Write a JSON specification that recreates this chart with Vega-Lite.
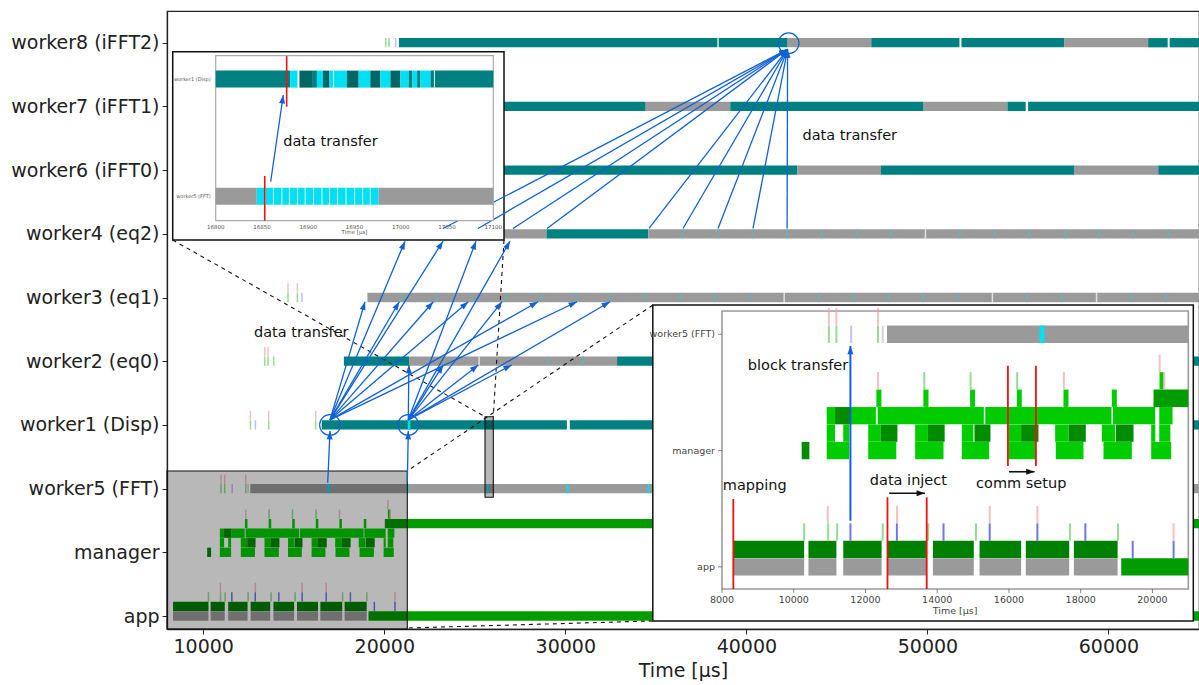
{
"$schema": "https://vega.github.io/schema/vega-lite/v6.json",
"width": 1032, "height": 618,
"autosize": "none",
"padding": {"left": 167, "top": 11, "right": 0, "bottom": 56},
"background": "white",
"config": {"view": {"stroke": "#222", "strokeWidth": 1.2}, "font": "DejaVu Sans"},
"datasets": {
"tl": [
{"y":9,"s":20810,"e":38400,"k":"busy"},{"y":9,"s":38470,"e":42280,"k":"busy"},{"y":9,"s":42280,"e":46900,"k":"idle"},{"y":9,"s":46900,"e":51770,"k":"busy"},{"y":9,"s":51880,"e":57550,"k":"busy"},{"y":9,"s":57550,"e":62190,"k":"idle"},{"y":9,"s":62190,"e":63270,"k":"busy"},{"y":9,"s":63380,"e":65000,"k":"busy"},
{"y":8,"s":22000,"e":34440,"k":"busy"},{"y":8,"s":34440,"e":39110,"k":"idle"},{"y":8,"s":39110,"e":49790,"k":"busy"},{"y":8,"s":49790,"e":54420,"k":"idle"},{"y":8,"s":54420,"e":55430,"k":"busy"},{"y":8,"s":55560,"e":65000,"k":"busy"},
{"y":7,"s":22500,"e":42810,"k":"busy"},{"y":7,"s":42810,"e":47420,"k":"idle"},{"y":7,"s":47420,"e":58130,"k":"busy"},{"y":7,"s":58130,"e":62750,"k":"idle"},{"y":7,"s":62750,"e":65000,"k":"busy"},
{"y":6,"s":26000,"e":28960,"k":"idle"},{"y":6,"s":28960,"e":34580,"k":"busy"},{"y":6,"s":34580,"e":65000,"k":"idle"},
{"y":5,"s":19070,"e":65000,"k":"idle"},
{"y":4,"s":17770,"e":21370,"k":"busy"},{"y":4,"s":21370,"e":32860,"k":"idle"},{"y":4,"s":32860,"e":40500,"k":"busy"},{"y":4,"s":40500,"e":45000,"k":"idle"},{"y":4,"s":45000,"e":65000,"k":"busy"},
{"y":3,"s":16545,"e":30088,"k":"busy"},{"y":3,"s":30248,"e":65000,"k":"busy"},{"y":3,"s":21300,"e":21440,"k":"xfer"},
{"y":2,"s":12600,"e":65000,"k":"idle"},
{"y":2,"s":16850,"e":16990,"k":"xfer"},{"y":2,"s":21230,"e":21330,"k":"xfer"},{"y":2,"s":25665,"e":25765,"k":"xfer"},{"y":2,"s":30085,"e":30185,"k":"xfer"},{"y":2,"s":34535,"e":34635,"k":"xfer"},{"y":2,"s":38950,"e":39050,"k":"xfer"},{"y":2,"s":43380,"e":43480,"k":"xfer"},{"y":2,"s":47810,"e":47910,"k":"xfer"},{"y":2,"s":52240,"e":52340,"k":"xfer"},{"y":2,"s":56670,"e":56770,"k":"xfer"},{"y":2,"s":61100,"e":61200,"k":"xfer"},
{"y":1,"s":10221,"e":10436,"k":"mgrd"},
{"y":1,"s":10919,"e":11542,"k":"mgr"},{"y":1.15,"s":10919,"e":11152,"k":"mgr"},{"y":1.15,"s":11380,"e":11542,"k":"mgr"},{"y":1.3,"s":10919,"e":11152,"k":"mgr"},{"y":1.3,"s":11152,"e":11570,"k":"mgrd"},
{"y":1.3,"s":11570,"e":12290,"k":"mgr"},{"y":1.3,"s":12340,"e":15300,"k":"mgr"},{"y":1.3,"s":15340,"e":18860,"k":"mgr"},{"y":1.3,"s":18900,"e":20077,"k":"mgr"},
{"y":1,"s":12076,"e":12860,"k":"mgr"},{"y":1.15,"s":12076,"e":12429,"k":"mgr"},{"y":1.15,"s":12429,"e":12891,"k":"mgrd"},{"y":1.45,"s":12303,"e":12444,"k":"mgr"},
{"y":1,"s":13385,"e":14176,"k":"mgr"},{"y":1.15,"s":13385,"e":13741,"k":"mgr"},{"y":1.15,"s":13741,"e":14208,"k":"mgrd"},{"y":1.45,"s":13614,"e":13757,"k":"mgr"},
{"y":1,"s":14685,"e":15447,"k":"mgr"},{"y":1.15,"s":14685,"e":15010,"k":"mgr"},{"y":1.15,"s":15038,"e":15484,"k":"mgrd"},{"y":1.45,"s":14917,"e":15056,"k":"mgr"},
{"y":1,"s":15986,"e":16749,"k":"mgr"},{"y":1.15,"s":15986,"e":16339,"k":"mgr"},{"y":1.15,"s":16339,"e":16823,"k":"mgrd"},{"y":1.45,"s":16219,"e":16358,"k":"mgr"},
{"y":1,"s":17306,"e":18078,"k":"mgr"},{"y":1.15,"s":17288,"e":17660,"k":"mgr"},{"y":1.15,"s":17660,"e":18143,"k":"mgrd"},{"y":1.45,"s":17520,"e":17660,"k":"mgr"},
{"y":1,"s":18636,"e":19426,"k":"mgr"},{"y":1.15,"s":18589,"e":18961,"k":"mgr"},{"y":1.15,"s":18980,"e":19473,"k":"mgrd"},{"y":1.45,"s":18868,"e":19008,"k":"mgr"},
{"y":1,"s":19965,"e":20523,"k":"mgr"},{"y":1.15,"s":19965,"e":20080,"k":"mgr"},{"y":1.15,"s":20190,"e":20500,"k":"mgr"},{"y":1.3,"s":20190,"e":20560,"k":"mgr"},
{"y":1.45,"s":20030,"e":65000,"k":"run"},{"y":1.6,"s":20198,"e":20309,"k":"mgr"},
{"y":0.15,"s":8335,"e":10290,"k":"app"},{"y":0.15,"s":10410,"e":11190,"k":"app"},{"y":0.15,"s":11380,"e":12450,"k":"app"},{"y":0.15,"s":12620,"e":13700,"k":"app"},{"y":0.15,"s":13880,"e":15020,"k":"app"},{"y":0.15,"s":15180,"e":16340,"k":"app"},{"y":0.15,"s":16470,"e":17680,"k":"app"},{"y":0.15,"s":17810,"e":19030,"k":"app"},
{"y":0,"s":8335,"e":10290,"k":"idle"},{"y":0,"s":10410,"e":11190,"k":"idle"},{"y":0,"s":11380,"e":12450,"k":"idle"},{"y":0,"s":12620,"e":13700,"k":"idle"},{"y":0,"s":13880,"e":15020,"k":"idle"},{"y":0,"s":15180,"e":16340,"k":"idle"},{"y":0,"s":16470,"e":17680,"k":"idle"},{"y":0,"s":17810,"e":19030,"k":"idle"},
{"y":0,"s":19130,"e":65000,"k":"run"}
],
"mk": [
{"y":9,"t":20080,"k":"tg"},{"y":9,"t":20264,"k":"tg"},{"y":9,"t":20630,"k":"tl"},
{"y":5.15,"t":14683,"k":"tr"},{"y":5,"t":14683,"k":"tg"},{"y":5.15,"t":15202,"k":"tr"},{"y":5,"t":15202,"k":"tg"},{"y":5,"t":15456,"k":"tl"},
{"y":4.15,"t":13396,"k":"tr"},{"y":4,"t":13396,"k":"tg"},{"y":4.15,"t":13579,"k":"tr"},{"y":4,"t":13579,"k":"tg"},{"y":4,"t":13894,"k":"tg"},
{"y":3.15,"t":12611,"k":"tr"},{"y":3,"t":12611,"k":"tg"},{"y":3,"t":12883,"k":"tl"},{"y":3.15,"t":13617,"k":"tr"},{"y":3,"t":13617,"k":"tg"},{"y":3.15,"t":16213,"k":"tr"},{"y":3,"t":16213,"k":"tg"},
{"y":2,"t":10980,"k":"tg"},{"y":2.15,"t":10980,"k":"tr"},{"y":2,"t":11190,"k":"tg"},{"y":2.15,"t":11190,"k":"tr"},{"y":2,"t":11600,"k":"tl"},{"y":2,"t":12350,"k":"tg"},{"y":2.15,"t":12350,"k":"tr"},{"y":2,"t":12480,"k":"tgr"},
{"y":1.6,"t":12350,"k":"tr"},{"y":1.6,"t":13640,"k":"tg"},{"y":1.6,"t":14930,"k":"tg"},{"y":1.6,"t":16230,"k":"tg"},{"y":1.6,"t":17530,"k":"tr"},{"y":1.75,"t":20200,"k":"tr"},{"y":1.6,"t":20330,"k":"tr"},
{"y":0.3,"t":11580,"k":"tb"},{"y":0.3,"t":12875,"k":"tb"},{"y":0.3,"t":14175,"k":"tb"},{"y":0.3,"t":15463,"k":"tb"},{"y":0.3,"t":16793,"k":"tb"},{"y":0.3,"t":18130,"k":"tb"},{"y":0.15,"t":19450,"k":"tb"},{"y":0.15,"t":20590,"k":"tb"},
{"y":0.3,"t":10290,"k":"tg"},{"y":0.3,"t":10960,"k":"tg"},{"y":0.3,"t":11210,"k":"tg"},{"y":0.45,"t":10950,"k":"tr"},{"y":0.3,"t":12480,"k":"tg"},{"y":0.45,"t":12880,"k":"tr"},{"y":0.3,"t":13750,"k":"tg"},{"y":0.45,"t":15463,"k":"tr"},{"y":0.3,"t":15080,"k":"tg"},{"y":0.45,"t":16793,"k":"tr"},{"y":0.3,"t":17700,"k":"tg"},{"y":0.3,"t":19040,"k":"tg"},{"y":0.3,"t":20590,"k":"tr"},
{"y":5,"t":21001,"k":"sep"},{"y":5,"t":22918,"k":"sep"},{"y":5,"t":24835,"k":"sep"},{"y":5,"t":26752,"k":"sep"},{"y":5,"t":28669,"k":"sep"},{"y":5,"t":30586,"k":"sep"},{"y":5,"t":32503,"k":"sep"},{"y":5,"t":34420,"k":"sep"},{"y":5,"t":36337,"k":"sep"},{"y":5,"t":38254,"k":"sep"},{"y":5,"t":40171,"k":"sep"},{"y":5,"t":42088,"k":"sepw"},{"y":5,"t":44005,"k":"sep"},{"y":5,"t":45922,"k":"sep"},{"y":5,"t":47839,"k":"sep"},{"y":5,"t":49756,"k":"sep"},{"y":5,"t":51673,"k":"sep"},{"y":5,"t":53590,"k":"sepw"},{"y":5,"t":55507,"k":"sep"},{"y":5,"t":57424,"k":"sep"},{"y":5,"t":59341,"k":"sepw"},{"y":5,"t":61258,"k":"sep"},{"y":5,"t":63175,"k":"sep"},
{"y":6,"t":36470,"k":"sep"},{"y":6,"t":38440,"k":"sep"},{"y":6,"t":40340,"k":"sep"},{"y":6,"t":42260,"k":"sep"},{"y":6,"t":44150,"k":"sep"},{"y":6,"t":46080,"k":"sep"},{"y":6,"t":47990,"k":"sep"},{"y":6,"t":49890,"k":"sepw"},{"y":6,"t":51790,"k":"sep"},{"y":6,"t":53710,"k":"sep"},{"y":6,"t":55630,"k":"sep"},{"y":6,"t":57600,"k":"sep"},{"y":6,"t":59490,"k":"sep"},{"y":6,"t":61340,"k":"sep"},{"y":6,"t":63310,"k":"sep"},
{"y":4,"t":25240,"k":"sepw"},{"y":4,"t":29040,"k":"sep"},{"y":4,"t":30975,"k":"sep"}
],
"boxes": [
{"x1":8000,"x2":21272,"y1":-0.204,"y2":2.277,"kind":"shade"},
{"x1":25564,"x2":26022,"y1":1.864,"y2":3.129,"kind":"shade"}
],
"insets": [
{"x1":8315,"x2":26614,"y1":5.903,"y2":8.859},
{"x1":34832,"x2":64686,"y1":-0.078,"y2":4.883}
],
"dash": [
{"x1":8315,"y1":5.903,"x2":25564,"y2":3.129},
{"x1":26614,"y1":5.903,"x2":26022,"y2":3.129},
{"x1":34832,"y1":4.883,"x2":21272,"y2":2.277},
{"x1":34832,"y1":-0.078,"x2":21272,"y2":-0.188}
],
"arr": [
{"x1":16876,"y1":2.093,"x2":17003,"y2":2.905},
{"x1":21272,"y1":2.093,"x2":21327,"y2":2.905},
{"x1":17003,"y1":3.08,"x2":21145,"y2":5.885},
{"x1":17003,"y1":3.08,"x2":23244,"y2":5.885},
{"x1":17003,"y1":3.08,"x2":18936,"y2":4.934},
{"x1":17003,"y1":3.08,"x2":20830,"y2":4.934},
{"x1":17003,"y1":3.08,"x2":22708,"y2":4.934},
{"x1":17003,"y1":3.08,"x2":24641,"y2":4.934},
{"x1":17003,"y1":3.08,"x2":28491,"y2":4.934},
{"x1":17003,"y1":3.08,"x2":30645,"y2":4.934},
{"x1":21327,"y1":3.08,"x2":25067,"y2":5.885},
{"x1":21327,"y1":3.08,"x2":26945,"y2":5.885},
{"x1":21327,"y1":3.08,"x2":26503,"y2":4.934},
{"x1":21327,"y1":3.08,"x2":32468,"y2":4.934},
{"x1":21327,"y1":3.08,"x2":21360,"y2":3.941},
{"x1":21327,"y1":3.08,"x2":23261,"y2":3.941},
{"x1":21327,"y1":3.08,"x2":25194,"y2":3.941},
{"x1":21327,"y1":3.08,"x2":27039,"y2":3.941},
{"x1":23244,"y1":6.084,"x2":42277,"y2":8.897},
{"x1":25177,"y1":6.084,"x2":42277,"y2":8.897},
{"x1":27110,"y1":6.084,"x2":42277,"y2":8.897},
{"x1":28989,"y1":6.084,"x2":42277,"y2":8.897},
{"x1":34622,"y1":6.084,"x2":42277,"y2":8.897},
{"x1":36500,"y1":6.084,"x2":42277,"y2":8.897},
{"x1":38433,"y1":6.084,"x2":42277,"y2":8.897},
{"x1":40366,"y1":6.084,"x2":42277,"y2":8.897},
{"x1":42250,"y1":6.084,"x2":42277,"y2":8.897}
],
"circ": [{"t":17003,"y":3.0},{"t":21327,"y":3.0},{"t":42333,"y":8.991}],
"notes": [{"t":12805,"y":4.448,"label":"data transfer"},{"t":43100,"y":7.538,"label":"data transfer"}],
"i1": [
{"y":1,"s":16800,"e":16880.5,"k":"busy"},{"y":1,"s":16880.5,"e":16888.4,"k":"xfer"},{"y":1,"s":16890.5,"e":16905,"k":"busyd"},{"y":1,"s":16905,"e":16909.4,"k":"busy"},{"y":1,"s":16909.4,"e":16915.9,"k":"xfer"},{"y":1,"s":16915.9,"e":16923,"k":"busyd"},{"y":1,"s":16923,"e":16941.9,"k":"xfer"},{"y":1,"s":16941.9,"e":16954.5,"k":"busyd"},{"y":1,"s":16954.5,"e":16967.1,"k":"xfer"},{"y":1,"s":16967.1,"e":16977.9,"k":"busyd"},{"y":1,"s":16977.9,"e":16988.8,"k":"xfer"},{"y":1,"s":16988.8,"e":16999.6,"k":"busyd"},{"y":1,"s":16999.6,"e":17008.6,"k":"xfer"},{"y":1,"s":17008.6,"e":17012.3,"k":"busy"},{"y":1,"s":17012.3,"e":17017.7,"k":"xfer"},{"y":1,"s":17017.7,"e":17021.3,"k":"busy"},{"y":1,"s":17021.3,"e":17032.1,"k":"xfer"},{"y":1,"s":17032.1,"e":17100,"k":"busy"},
{"y":0,"s":16800,"e":16844.4,"k":"idle"},{"y":0,"s":16844.4,"e":16976.1,"k":"xfer"},{"y":0,"s":16976.1,"e":17100,"k":"idle"}
],
"i1g": [
{"y":1,"t":16927.4},{"y":1,"t":17036.4},
{"y":0,"t":16853.4},{"y":0,"t":16862.4},{"y":0,"t":16871.5},{"y":0,"t":16879.7},{"y":0,"t":16888.4},{"y":0,"t":16896.7},{"y":0,"t":16905.7},{"y":0,"t":16914.8},{"y":0,"t":16923},{"y":0,"t":16931.7},{"y":0,"t":16940.8},{"y":0,"t":16950.1},{"y":0,"t":16958.8},{"y":0,"t":16967.1}
],
"i1ticks": [{"v":16800},{"v":16850},{"v":16900},{"v":16950},{"v":17000},{"v":17050},{"v":17100}],
"i1rows": [{"y":1,"n":"worker1 (Disp)"},{"y":0,"n":"worker5 (FFT)"}],
"i1red": [{"t":16876.7,"y1":0.764,"y2":1.197},{"t":16853,"y1":-0.21,"y2":0.172}],
"i2ticks": [{"v":8000},{"v":10000},{"v":12000},{"v":14000},{"v":16000},{"v":18000},{"v":20000}],
"i2rows": [{"y":2,"n":"worker5 (FFT)"},{"y":1,"n":"manager"},{"y":0,"n":"app"}],
"i2red": [{"t":8316,"y1":-0.19,"y2":0.584},{"t":12613,"y1":-0.19,"y2":0.598},{"t":13707,"y1":-0.19,"y2":0.598},{"t":15971,"y1":0.867,"y2":1.73},{"t":16752,"y1":0.867,"y2":1.73}],
"i2harr": [{"x1":12662,"x2":13658,"y":0.633},{"x1":16002,"x2":16715,"y":0.818}],
"i2notes": [{"t":8912,"y":0.695,"label":"mapping"},{"t":13196,"y":0.741,"label":"data inject"},{"t":16342,"y":0.71,"label":"comm setup"},{"t":10120,"y":1.725,"label":"block transfer"}]
},
"layer": [
{
"layer": [
{"data": {"name": "tl"}, "mark": {"type": "rule", "strokeWidth": 9.3},
 "encoding": {
  "x": {"field": "s", "type": "quantitative", "scale": {"domain": [8000, 65000], "nice": false, "zero": false},
        "axis": {"values": [10000, 20000, 30000, 40000, 50000, 60000], "format": "d", "title": "Time [μs]", "grid": false, "labelFontSize": 19, "titleFontSize": 19, "titleFontWeight": "normal", "labelColor": "#222", "titleColor": "#222", "tickColor": "#222", "domainColor": "#222", "domainWidth": 1.3, "tickSize": 5, "labelPadding": 3, "titlePadding": 5, "labelFont": "DejaVu Sans", "titleFont": "DejaVu Sans"}},
  "x2": {"field": "e"},
  "y": {"field": "y", "type": "quantitative", "scale": {"domain": [-0.204, 9.498], "nice": false, "zero": false},
        "axis": {"values": [0, 1, 2, 3, 4, 5, 6, 7, 8, 9], "title": null, "grid": false, "labelExpr": "['app','manager','worker5 (FFT)','worker1 (Disp)','worker2 (eq0)','worker3 (eq1)','worker4 (eq2)','worker6 (iFFT0)','worker7 (iFFT1)','worker8 (iFFT2)'][datum.value]", "labelFontSize": 19, "labelColor": "#222", "tickColor": "#222", "domainColor": "#222", "domainWidth": 1.3, "tickSize": 5, "labelPadding": 3, "labelFont": "DejaVu Sans"}},
  "color": {"field": "k", "type": "nominal", "legend": null, "scale": {"domain": ["busy","busyd","idle","xfer","app","run","mgr","mgrd","tr","tg","tl","tb","tgr","sep","sepw"], "range": ["#008080","#006666","#9a9a9a","#00e0f4","#008000","#009c00","#00cc00","#008c00","#f2a5a5","#66cc66","#a5a5ee","#2b3fdc","#c0c0c0","#5cb9c2","#ffffff"]}}
 }},
{"data": {"name": "mk"}, "mark": {"type": "tick", "orient": "vertical", "size": 9.3, "thickness": 1.5},
 "encoding": {
  "x": {"field": "t", "type": "quantitative"},
  "y": {"field": "y", "type": "quantitative"},
  "color": {"field": "k", "type": "nominal", "legend": null, "scale": {"domain": ["busy","busyd","idle","xfer","app","run","mgr","mgrd","tr","tg","tl","tb","tgr","sep","sepw"], "range": ["#008080","#006666","#9a9a9a","#00e0f4","#008000","#009c00","#00cc00","#008c00","#f2a5a5","#66cc66","#a5a5ee","#2b3fdc","#c0c0c0","#5cb9c2","#ffffff"]}}
 }},
{"data": {"name": "boxes"}, "mark": {"type": "rect", "fill": "#000", "fillOpacity": 0.28, "stroke": "#111", "strokeWidth": 1.1},
 "encoding": {"x": {"field": "x1", "type": "quantitative"}, "x2": {"field": "x2"}, "y": {"field": "y1", "type": "quantitative"}, "y2": {"field": "y2"}}},
{"data": {"name": "insets"}, "mark": {"type": "rect", "fill": "white", "stroke": "#111", "strokeWidth": 1.5},
 "encoding": {"x": {"field": "x1", "type": "quantitative"}, "x2": {"field": "x2"}, "y": {"field": "y1", "type": "quantitative"}, "y2": {"field": "y2"}}},
{"data": {"name": "dash"}, "mark": {"type": "rule", "stroke": "#111", "strokeWidth": 1.1, "strokeDash": [4, 4]},
 "encoding": {"x": {"field": "x1", "type": "quantitative"}, "x2": {"field": "x2"}, "y": {"field": "y1", "type": "quantitative"}, "y2": {"field": "y2"}}},
{"data": {"name": "arr"}, "mark": {"type": "rule", "stroke": "#1060d8", "strokeWidth": 1.3},
 "encoding": {"x": {"field": "x1", "type": "quantitative"}, "x2": {"field": "x2"}, "y": {"field": "y1", "type": "quantitative"}, "y2": {"field": "y2"}}},
{"data": {"name": "arr"},
 "transform": [{"calculate": "atan2((datum.x2 - datum.x1) * 0.018105, (datum.y2 - datum.y1) * 63.70) * 180 / PI", "as": "ang"}],
 "mark": {"type": "point", "shape": "M0,0L-0.5,1.4L0.5,1.4Z", "filled": true, "size": 144, "color": "#1060d8", "opacity": 1},
 "encoding": {"x": {"field": "x2", "type": "quantitative"}, "y": {"field": "y2", "type": "quantitative"}, "angle": {"field": "ang", "type": "quantitative", "scale": null}}},
{"data": {"name": "circ"}, "mark": {"type": "point", "shape": "circle", "filled": false, "size": 430, "stroke": "#1060d8", "strokeWidth": 1.2, "opacity": 1},
 "encoding": {"x": {"field": "t", "type": "quantitative"}, "y": {"field": "y", "type": "quantitative"}}},
{"data": {"name": "notes"}, "mark": {"type": "text", "fontSize": 14.5, "font": "DejaVu Sans", "color": "#111", "baseline": "middle", "align": "left"},
 "encoding": {"x": {"field": "t", "type": "quantitative"}, "y": {"field": "y", "type": "quantitative"}, "text": {"field": "label"}}}
]
},
{
"layer": [
{"data": {"values": [{}]}, "mark": {"type": "rect", "fill": "white", "stroke": "#aaaaaa", "strokeWidth": 1.2},
 "encoding": {
  "x": {"datum": 16800, "type": "quantitative", "scale": {"domain": [16800, 17100], "range": [48.7, 326.3], "nice": false, "zero": false}, "axis": null},
  "x2": {"datum": 17100},
  "y": {"datum": -0.21, "type": "quantitative", "scale": {"domain": [-0.21, 1.2], "range": [209.7, 44.7], "nice": false, "zero": false}, "axis": null},
  "y2": {"datum": 1.2}}},
{"data": {"name": "i1"}, "mark": {"type": "rule", "strokeWidth": 17},
 "encoding": {"x": {"field": "s", "type": "quantitative"}, "x2": {"field": "e"}, "y": {"field": "y", "type": "quantitative"},
  "color": {"field": "k", "type": "nominal", "legend": null, "scale": {"domain": ["busy","busyd","idle","xfer","app","run","mgr","mgrd","tr","tg","tl","tb","tgr","sep","sepw"], "range": ["#008080","#006666","#9a9a9a","#00e0f4","#008000","#009c00","#00cc00","#008c00","#f2a5a5","#66cc66","#a5a5ee","#2b3fdc","#c0c0c0","#5cb9c2","#ffffff"]}}}},
{"data": {"name": "i1g"}, "mark": {"type": "tick", "orient": "vertical", "size": 17, "thickness": 1, "color": "#e8fbff", "opacity": 1},
 "encoding": {"x": {"field": "t", "type": "quantitative"}, "y": {"field": "y", "type": "quantitative"}}},
{"data": {"name": "i1red"}, "mark": {"type": "rule", "stroke": "#ee1111", "strokeWidth": 1.6},
 "encoding": {"x": {"field": "t", "type": "quantitative"}, "y": {"field": "y1", "type": "quantitative"}, "y2": {"field": "y2"}}},
{"data": {"values": [{"x1": 16859.4, "y1": 0.123, "x2": 16873.0, "y2": 0.864}]}, "mark": {"type": "rule", "stroke": "#1060d8", "strokeWidth": 1.3},
 "encoding": {"x": {"field": "x1", "type": "quantitative"}, "x2": {"field": "x2"}, "y": {"field": "y1", "type": "quantitative"}, "y2": {"field": "y2"}}},
{"data": {"values": [{"x2": 16873.0, "y2": 0.864}]}, "mark": {"type": "point", "shape": "M0,0L-0.5,1.4L0.5,1.4Z", "filled": true, "size": 144, "color": "#1060d8", "opacity": 1, "angle": 8},
 "encoding": {"x": {"field": "x2", "type": "quantitative"}, "y": {"field": "y2", "type": "quantitative"}}},
{"data": {"values": [{"t": 16924, "y": 0.4625, "label": "data transfer"}]}, "mark": {"type": "text", "fontSize": 14.5, "font": "DejaVu Sans", "color": "#111", "baseline": "middle", "align": "center"},
 "encoding": {"x": {"field": "t", "type": "quantitative"}, "y": {"field": "y", "type": "quantitative"}, "text": {"field": "label"}}},
{"data": {"name": "i1ticks"}, "mark": {"type": "text", "fontSize": 5.5, "color": "#555", "baseline": "top", "align": "center", "dy": 4},
 "encoding": {"x": {"field": "v", "type": "quantitative"}, "y": {"datum": -0.21, "type": "quantitative"}, "text": {"field": "v", "type": "quantitative", "format": "d"}}},
{"data": {"values": [{"t": 16950, "label": "Time [μs]"}]}, "mark": {"type": "text", "fontSize": 5.5, "color": "#555", "baseline": "middle", "align": "center", "dy": 11},
 "encoding": {"x": {"field": "t", "type": "quantitative"}, "y": {"datum": -0.21, "type": "quantitative"}, "text": {"field": "label"}}},
{"data": {"name": "i1rows"}, "mark": {"type": "text", "fontSize": 5, "color": "#555", "baseline": "middle", "align": "right", "dx": -5},
 "encoding": {"x": {"datum": 16800, "type": "quantitative"}, "y": {"field": "y", "type": "quantitative"}, "text": {"field": "n"}}}
]
},
{
"layer": [
{"data": {"values": [{}]}, "mark": {"type": "rect", "fill": "white", "stroke": "#9a9a9a", "strokeWidth": 1.6},
 "encoding": {
  "x": {"datum": 8000, "type": "quantitative", "scale": {"domain": [8000, 21000], "range": [555, 1021.3], "nice": false, "zero": false, "clamp": true}, "axis": null},
  "x2": {"datum": 21000},
  "y": {"datum": -0.19, "type": "quantitative", "scale": {"domain": [-0.19, 2.2], "range": [578, 300], "nice": false, "zero": false}, "axis": null},
  "y2": {"datum": 2.2}}},
{"data": {"name": "tl"}, "transform": [{"filter": "datum.y < 2.7 && datum.s < 21000"}], "mark": {"type": "rule", "strokeWidth": 17.3},
 "encoding": {"x": {"field": "s", "type": "quantitative"}, "x2": {"field": "e"}, "y": {"field": "y", "type": "quantitative"},
  "color": {"field": "k", "type": "nominal", "legend": null, "scale": {"domain": ["busy","busyd","idle","xfer","app","run","mgr","mgrd","tr","tg","tl","tb","tgr","sep","sepw"], "range": ["#008080","#006666","#9a9a9a","#00e0f4","#008000","#009c00","#00cc00","#008c00","#f2a5a5","#66cc66","#a5a5ee","#2b3fdc","#c0c0c0","#5cb9c2","#ffffff"]}}}},
{"data": {"name": "mk"}, "transform": [{"filter": "datum.y < 2.7 && datum.t < 21000"}], "mark": {"type": "tick", "orient": "vertical", "size": 17.3, "thickness": 2},
 "encoding": {"x": {"field": "t", "type": "quantitative"}, "y": {"field": "y", "type": "quantitative"},
  "color": {"field": "k", "type": "nominal", "legend": null, "scale": {"domain": ["busy","busyd","idle","xfer","app","run","mgr","mgrd","tr","tg","tl","tb","tgr","sep","sepw"], "range": ["#008080","#006666","#9a9a9a","#00e0f4","#008000","#009c00","#00cc00","#008c00","#f2a5a5","#66cc66","#a5a5ee","#2b3fdc","#c0c0c0","#5cb9c2","#ffffff"]}}}},
{"data": {"name": "i2red"}, "mark": {"type": "rule", "stroke": "#ee1111", "strokeWidth": 1.8},
 "encoding": {"x": {"field": "t", "type": "quantitative"}, "y": {"field": "y1", "type": "quantitative"}, "y2": {"field": "y2"}}},
{"data": {"name": "i2harr"}, "mark": {"type": "rule", "stroke": "#111", "strokeWidth": 1.6},
 "encoding": {"x": {"field": "x1", "type": "quantitative"}, "x2": {"field": "x2"}, "y": {"field": "y", "type": "quantitative"}}},
{"data": {"name": "i2harr"}, "mark": {"type": "point", "shape": "M0,0L-0.5,1.4L0.5,1.4Z", "filled": true, "size": 144, "color": "#111", "opacity": 1, "angle": 90},
 "encoding": {"x": {"field": "x2", "type": "quantitative"}, "y": {"field": "y", "type": "quantitative"}}},
{"data": {"values": [{"t": 11580, "y1": 0.397, "y2": 1.9}]}, "mark": {"type": "rule", "stroke": "#1060d8", "strokeWidth": 2},
 "encoding": {"x": {"field": "t", "type": "quantitative"}, "y": {"field": "y1", "type": "quantitative"}, "y2": {"field": "y2"}}},
{"data": {"values": [{"t": 11580, "y": 1.9}]}, "mark": {"type": "point", "shape": "M0,0L-0.5,1.4L0.5,1.4Z", "filled": true, "size": 144, "color": "#1060d8", "opacity": 1},
 "encoding": {"x": {"field": "t", "type": "quantitative"}, "y": {"field": "y", "type": "quantitative"}}},
{"data": {"name": "i2notes"}, "mark": {"type": "text", "fontSize": 14.5, "font": "DejaVu Sans", "color": "#111", "baseline": "middle", "align": "center"},
 "encoding": {"x": {"field": "t", "type": "quantitative"}, "y": {"field": "y", "type": "quantitative"}, "text": {"field": "label"}}},
{"data": {"name": "i2ticks"}, "mark": {"type": "text", "fontSize": 9.5, "color": "#444", "baseline": "top", "align": "center", "dy": 6},
 "encoding": {"x": {"field": "v", "type": "quantitative"}, "y": {"datum": -0.19, "type": "quantitative"}, "text": {"field": "v", "type": "quantitative", "format": "d"}}},
{"data": {"name": "i2ticks"}, "mark": {"type": "tick", "orient": "vertical", "size": 4, "thickness": 1, "color": "#555", "yOffset": 2},
 "encoding": {"x": {"field": "v", "type": "quantitative"}, "y": {"datum": -0.19, "type": "quantitative"}}},
{"data": {"values": [{"t": 14500, "label": "Time [μs]"}]}, "mark": {"type": "text", "fontSize": 9.5, "color": "#444", "baseline": "middle", "align": "center", "dy": 22},
 "encoding": {"x": {"field": "t", "type": "quantitative"}, "y": {"datum": -0.19, "type": "quantitative"}, "text": {"field": "label"}}},
{"data": {"name": "i2rows"}, "mark": {"type": "text", "fontSize": 9.5, "color": "#444", "baseline": "middle", "align": "right", "dx": -7},
 "encoding": {"x": {"datum": 8000, "type": "quantitative"}, "y": {"field": "y", "type": "quantitative"}, "text": {"field": "n"}}},
{"data": {"name": "i2rows"}, "mark": {"type": "tick", "orient": "horizontal", "size": 4, "thickness": 1, "color": "#555", "xOffset": -2},
 "encoding": {"x": {"datum": 8000, "type": "quantitative"}, "y": {"field": "y", "type": "quantitative"}}}
]
}
],
"resolve": {"scale": {"x": "independent", "y": "independent"}, "axis": {"x": "independent", "y": "independent"}}
}
